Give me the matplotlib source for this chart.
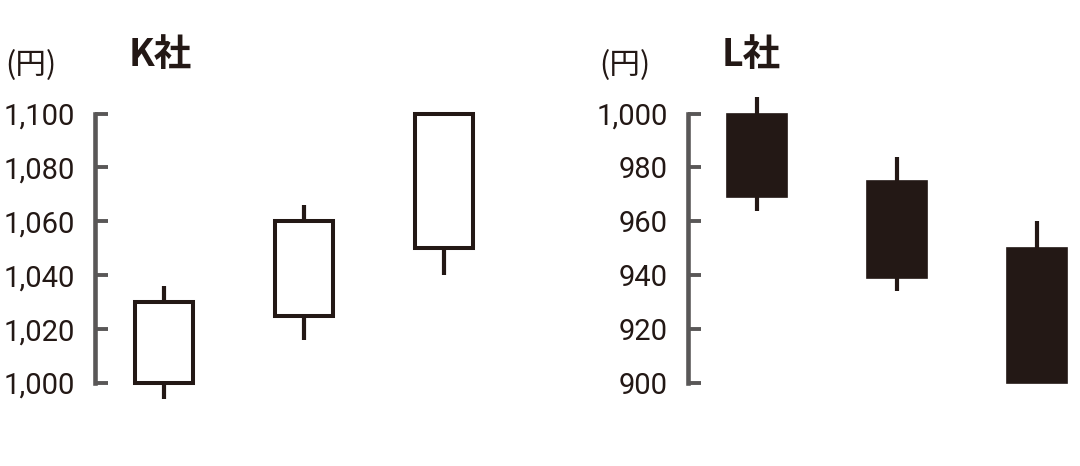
import numpy as np
import matplotlib.pyplot as plt

plt.rcParams['font.family'] = ['Roboto', 'Noto Sans CJK JP', 'DejaVu Sans']

# K社 (rising, white candles)
k_open = [1000, 1025, 1050]
k_close = [1030, 1060, 1100]
k_high = [1036, 1066, 1100]
k_low = [994, 1016, 1040]
k_ticks = [1000, 1020, 1040, 1060, 1080, 1100]

# L社 (falling, black candles)
l_open = [1000, 975, 950]
l_close = [969, 939, 900]
l_high = [1006, 984, 960]
l_low = [964, 934, 900]
l_ticks = [900, 920, 940, 960, 980, 1000]

ink = '#231815'
gray = '#595757'

W, H = 1080, 466
fig = plt.figure(figsize=(W / 100, H / 100), dpi=100)


def make_ax(left_px, ticks):
    x0 = 1 - 69.5 / 140
    x1 = 3.6
    ax = fig.add_axes([left_px / W, 83 / H, (x1 - x0) * 140 / W, 269.5 / H])
    ax.set_xlim(x0, x1)
    ax.set_ylim(ticks[0], ticks[-1])
    for s in ['top', 'right', 'bottom']:
        ax.spines[s].set_visible(False)
    ax.spines['left'].set_color(gray)
    ax.spines['left'].set_linewidth(3.3)
    ax.spines['left'].set_capstyle('projecting')
    ax.set_xticks([])
    ax.set_yticks(ticks)
    ax.set_yticklabels([f'{t:,}' for t in ticks])
    ax.tick_params(axis='y', direction='in', length=9, width=2.8, color=gray,
                   pad=14, labelsize=21, labelcolor=ink)
    ax.patch.set_alpha(0)
    return ax


def candles(ax, o, c, hi, lo, filled):
    x = np.arange(1, len(o) + 1)
    o = np.array(o); c = np.array(c)
    top = np.maximum(o, c); bot = np.minimum(o, c)
    ax.vlines(x, top, hi, color=ink, lw=3, clip_on=False)
    ax.vlines(x, lo, bot, color=ink, lw=3, clip_on=False)
    if filled:
        ax.bar(x, top - bot, bottom=bot, width=0.43, color=ink,
               edgecolor=ink, linewidth=1.2, clip_on=False, zorder=3)
    else:
        ax.bar(x, top - bot, bottom=bot, width=0.415, facecolor='white',
               edgecolor=ink, linewidth=2.9, clip_on=False, zorder=3)


ax1 = make_ax(94.5, k_ticks)
candles(ax1, k_open, k_close, k_high, k_low, False)

ax2 = make_ax(687.5, l_ticks)
candles(ax2, l_open, l_close, l_high, l_low, True)

for xp, name in [(129, 'K社'), (722, 'L社')]:
    fig.text(xp / W, 1 - 66 / H, name, fontsize=27, fontweight='bold',
             color=ink, va='baseline', family=['Noto Sans CJK JP'])
for xp in [5, 599]:
    fig.text(xp / W, 1 - 66 / H, '(円)', fontsize=22, color=ink, va='center',
             family=['Noto Sans CJK JP'])

fig.savefig('out.png', dpi=100)
